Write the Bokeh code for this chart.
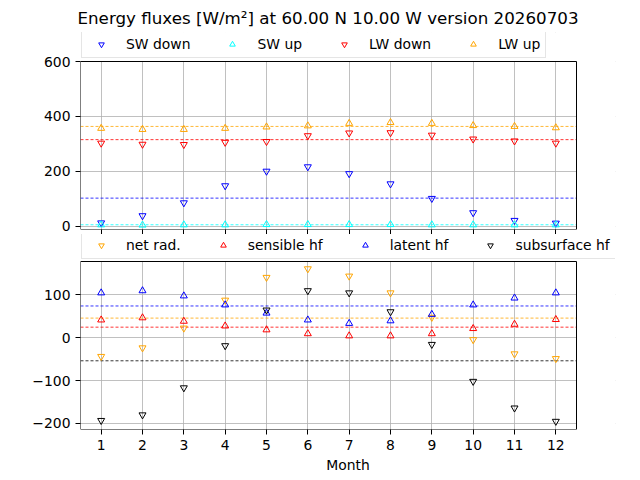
from bokeh.plotting import figure
from bokeh.layouts import column
from bokeh.models import (Legend, LegendItem, FixedTicker, Range1d, Span,
                          BoxAnnotation)
from bokeh.embed import file_html
from bokeh.resources import INLINE

# Monthly energy fluxes [W/m2]
months = list(range(1, 13))

sw_down = [13, 39, 86, 148, 201, 217, 192, 155, 102, 50, 22, 12]
sw_up = [6, 5, 6, 6, 7, 7, 7, 7, 6, 6, 6, 6]
lw_down = [303, 299, 298, 306, 309, 330, 340, 341, 332, 318, 311, 303]
lw_up = [357, 353, 353, 357, 362, 366, 375, 378, 375, 367, 364, 359]

net_rad = [-44, -24, 22, 87, 140, 160, 143, 104, 47, -5, -38, -49]
sensible_hf = [41, 46, 38, 27, 18, 9, 4, 4, 9, 21, 31, 42]
latent_hf = [104, 109, 97, 76, 57, 41, 33, 39, 54, 76, 92, 104]
subsurface_hf = [-193, -180, -117, -19, 64, 109, 104, 60, -16, -102, -164, -195]

top_yticks = [0, 200, 400, 600]
bottom_yticks = [-200, -100, 0, 100]
top_ylim = (-11, 600)
bottom_ylim = (-214, 177)
xlim = (0.5, 12.5)

FONT = "DejaVu Sans"
TICK_FS = "13.9px"

# Axes box (in pixels) and the wider drawing frame that also holds the legend
BOX_LEFT, BOX_RIGHT, BOX_H = 80, 576, 168
FRAME_RIGHT = 615
PX_PER_X = (BOX_RIGHT - BOX_LEFT) / (xlim[1] - xlim[0])


def mean(vals):
    return sum(vals) / len(vals)


def make_panel(ylim, yticks, extra_top, border_top, border_bottom):
    px_per_y = BOX_H / (ylim[1] - ylim[0])
    x_range = Range1d(xlim[0], xlim[1] + (FRAME_RIGHT - BOX_RIGHT) / PX_PER_X)
    y_range = Range1d(ylim[0], ylim[1] + extra_top / px_per_y)
    p = figure(
        frame_width=FRAME_RIGHT - BOX_LEFT, frame_height=BOX_H + extra_top,
        min_border_left=BOX_LEFT, min_border_right=640 - FRAME_RIGHT,
        min_border_top=border_top, min_border_bottom=border_bottom,
        x_range=x_range, y_range=y_range,
        output_backend="svg", toolbar_location=None,
    )
    p.background_fill_color = "white"
    p.border_fill_color = "white"
    p.outline_line_color = None

    p.xaxis.ticker = FixedTicker(ticks=months)
    p.xaxis.bounds = xlim
    p.yaxis.ticker = FixedTicker(ticks=yticks)
    p.yaxis.bounds = ylim
    p.yaxis.major_label_overrides = {t: str(t).replace("-", "\u2212") for t in yticks}
    for ax in p.axis:
        ax.axis_line_color = None
        ax.major_tick_line_color = "black"
        ax.major_tick_out = 5
        ax.major_tick_in = 0
        ax.minor_tick_out = 0
        ax.minor_tick_in = 0
        ax.major_label_text_font = FONT
        ax.major_label_text_font_size = TICK_FS
        ax.major_label_text_color = "black"
        ax.major_label_standoff = 5
    p.grid.grid_line_color = "#b0b0b0"
    p.grid.grid_line_width = 0.8
    return p


def finish_panel(p, ylim):
    # blank the parts of the frame outside the axes box, then draw the box
    for kw in (dict(left=xlim[1]), dict(bottom=ylim[1])):
        p.add_layout(BoxAnnotation(fill_color="white", fill_alpha=1,
                                   line_color=None, level="underlay", **kw))
    p.add_layout(BoxAnnotation(left=xlim[0], right=xlim[1], bottom=ylim[0],
                               top=ylim[1], fill_color=None, fill_alpha=0,
                               line_color="black", line_width=1, line_alpha=1))


def add_series(p, y, color, marker):
    return p.scatter(months, y, marker=marker, size=7, line_color=color,
                     fill_color=None, line_width=1)


def add_mean(p, y, color):
    p.add_layout(Span(location=mean(y), dimension="width", line_color=color,
                      line_width=0.8, line_dash="3 2", level="underlay"))


def make_legend(items, loc):
    return Legend(
        items=items, orientation="horizontal", location=loc,
        glyph_width=28, glyph_height=14, label_height=14,
        label_standoff=11, spacing=28, padding=5, margin=0,
        label_text_font=FONT, label_text_font_size=TICK_FS,
        label_text_color="black",
        border_line_color="#cccccc", border_line_width=1,
        background_fill_color="white", background_fill_alpha=0.8,
    )


# Radiation panel
top = make_panel(top_ylim, top_yticks, 29, 30, 5)
top.xaxis.major_label_overrides = {m: "" for m in months}
top.xaxis.major_label_text_font_size = "0px"
top.xaxis.major_label_standoff = 0
top.title.text = "Energy fluxes [W/m\u00b2] at 60.00 N 10.00 W version 20260703"
top.title.align = "left"
top.title.offset = -3
top.title.text_font = FONT
top.title.text_font_size = "16.7px"
top.title.text_font_style = "normal"
top.title.text_color = "black"

top_series = [
    ("SW down", sw_down, "blue", "inverted_triangle"),
    ("SW up", sw_up, "cyan", "triangle"),
    ("LW down", lw_down, "red", "inverted_triangle"),
    ("LW up", lw_up, "orange", "triangle"),
]
for label, y, color, marker in top_series:
    add_mean(top, y, color)
finish_panel(top, top_ylim)
items = []
for label, y, color, marker in top_series:
    r = add_series(top, y, color, marker)
    items.append(LegendItem(label=label, renderers=[r]))
top.add_layout(make_legend(items, (1, BOX_H + 3)))

# Turbulent / ground heat flux panel
bot = make_panel(bottom_ylim, bottom_yticks, 27, 0, 53)
bot.xaxis.axis_label = "Month"
bot.xaxis.axis_label_text_font = FONT
bot.xaxis.axis_label_text_font_size = TICK_FS
bot.xaxis.axis_label_text_font_style = "normal"
bot.xaxis.axis_label_text_color = "black"
bot.xaxis.axis_label_standoff = 4

bottom_series = [
    ("net rad.", net_rad, "orange", "inverted_triangle"),
    ("sensible hf", sensible_hf, "red", "triangle"),
    ("latent hf", latent_hf, "blue", "triangle"),
    ("subsurface hf", subsurface_hf, "black", "inverted_triangle"),
]
for label, y, color, marker in bottom_series:
    add_mean(bot, y, color)
finish_panel(bot, bottom_ylim)
items = []
for label, y, color, marker in bottom_series:
    r = add_series(bot, y, color, marker)
    items.append(LegendItem(label=label, renderers=[r]))
bot.add_layout(make_legend(items, (1, BOX_H + 2)))

layout = column(top, bot, spacing=0)
open("out.html", "w").write(file_html(layout, INLINE))
